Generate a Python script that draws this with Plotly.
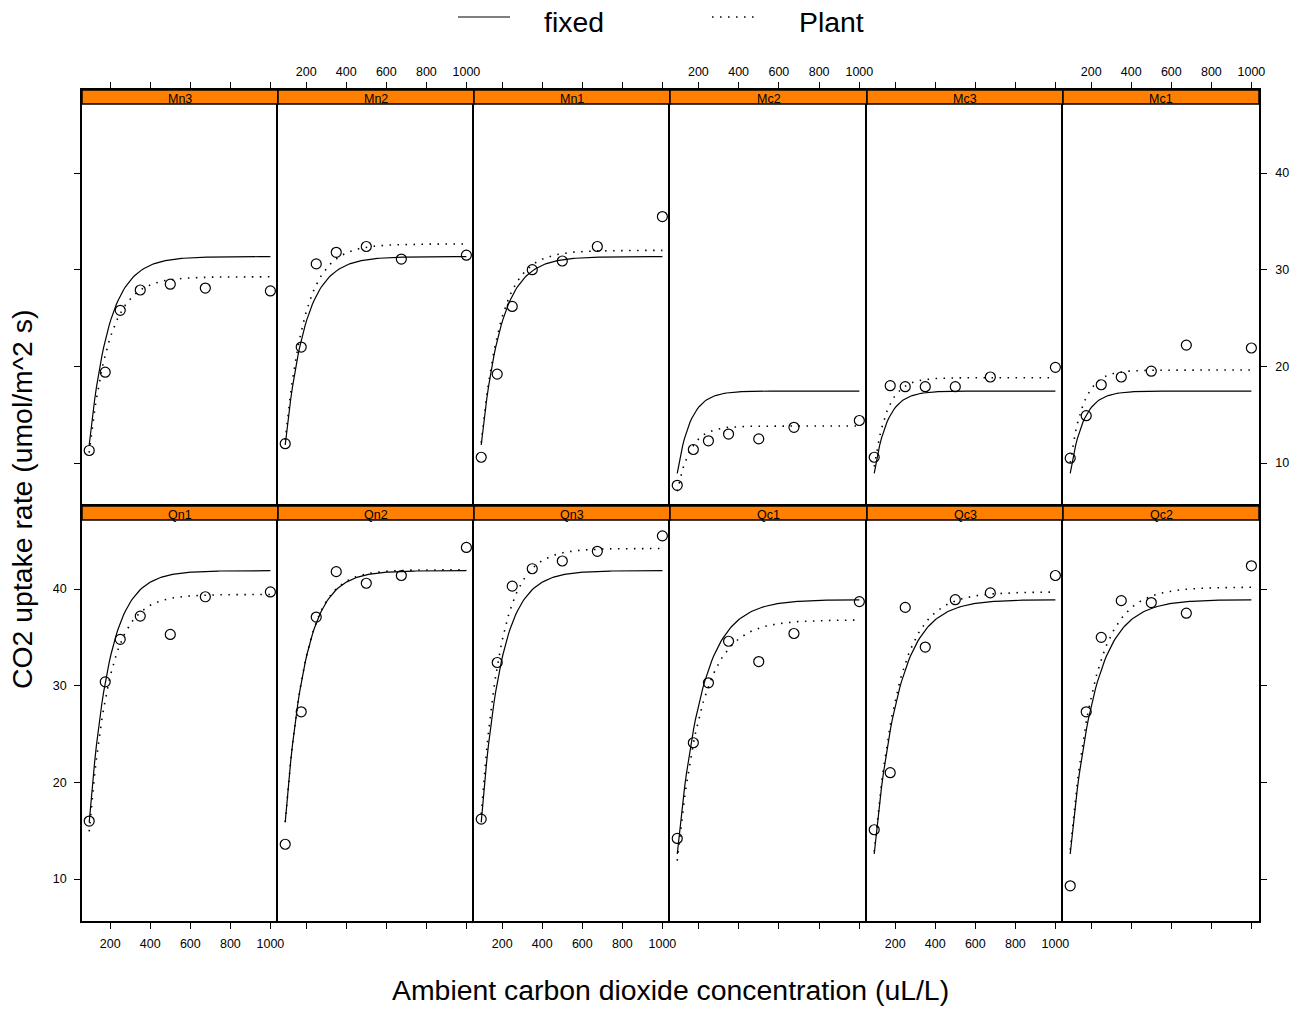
import numpy as np
import plotly.graph_objects as go

W, H = 1306, 1013

# ---- data (CO2 uptake, grass plants) ----
conc = [95, 175, 250, 350, 500, 675, 1000]
plants = ["Mn3", "Mn2", "Mn1", "Mc2", "Mc3", "Mc1",
          "Qn1", "Qn2", "Qn3", "Qc1", "Qc3", "Qc2"]
plant_group = ["Mn", "Mn", "Mn", "Mc", "Mc", "Mc",
               "Qn", "Qn", "Qn", "Qc", "Qc", "Qc"]
uptake = [
    [11.3, 19.4, 25.8, 27.9, 28.5, 28.1, 27.8],   # Mn3
    [12.0, 22.0, 30.6, 31.8, 32.4, 31.1, 31.5],   # Mn2
    [10.6, 19.2, 26.2, 30.0, 30.9, 32.4, 35.5],   # Mn1
    [7.7, 11.4, 12.3, 13.0, 12.5, 13.7, 14.4],    # Mc2
    [10.6, 18.0, 17.9, 17.9, 17.9, 18.9, 19.9],   # Mc3
    [10.5, 14.9, 18.1, 18.9, 19.5, 22.2, 21.9],   # Mc1
    [16.0, 30.4, 34.8, 37.2, 35.3, 39.2, 39.7],   # Qn1
    [13.6, 27.3, 37.1, 41.8, 40.6, 41.4, 44.3],   # Qn2
    [16.2, 32.4, 40.3, 42.1, 42.9, 43.9, 45.5],   # Qn3
    [14.2, 24.1, 30.3, 34.6, 32.5, 35.4, 38.7],   # Qc1
    [15.1, 21.0, 38.1, 34.0, 38.9, 39.6, 41.4],   # Qc3
    [9.3, 27.3, 35.0, 38.8, 38.6, 37.5, 42.4],    # Qc2
]

# ---- fitted asymptotic-regression model (SSasympOff) ----
group_names = ["Qn", "Qc", "Mn", "Mc"]
group_asym = [41.9, 38.9, 31.35, 17.45]      # fixed-effect asymptotes
group_lrc = [-4.593, -4.789, -4.593, -4.182]  # fixed-effect log rate constants
c0 = 48.0
plant_asym = [29.27, 32.66, 32.0, 13.83, 18.83, 19.62,
              39.44, 42.0, 44.2, 36.8, 39.7, 40.2]   # plant-level asymptotes

x_ticks = [200, 400, 600, 800, 1000]
y_ticks = [10, 20, 30, 40]
legend_labels = ["fixed", "Plant"]
x_title = "Ambient carbon dioxide concentration (uL/L)"
y_title = "CO2 uptake rate (umol/m^2 s)"

FONT = "Liberation Sans, Arial, Helvetica, sans-serif"
STRIP = "#ff8000"
DOT = "1.5px,6.5px"
BIG = 28.4

col_edges = [82, 278, 474, 670, 867, 1063, 1259]
row_spans = [(90, 505), (506, 921)]   # strip top .. panel bottom
strip_h = 14
x_range = [59, 1038]
px_per_unit = 9.667
y_lo = 5.66
y_range = [y_lo, y_lo + (row_spans[0][1] - row_spans[0][0]) / px_per_unit]


def fx(x):
    return x / W


def fy(y):
    return 1 - y / H


def asympoff(x, asym, lrc):
    x = np.asarray(x, dtype=float)
    return asym * (1 - np.exp(-np.exp(lrc) * (x - c0)))


fig = go.Figure()
curve_x = np.linspace(min(conc), max(conc), 101)
shapes = []
annotations = []

for i, p in enumerate(plants):
    r, c = divmod(i, 6)
    n = i + 1
    xa = "x" if n == 1 else f"x{n}"
    ya = "y" if n == 1 else f"y{n}"
    g = group_names.index(plant_group[i])
    lrc = group_lrc[g]

    fig.add_trace(go.Scatter(
        x=conc, y=uptake[i], mode="markers", xaxis=xa, yaxis=ya,
        marker=dict(symbol="circle-open", size=10, color="black",
                    line=dict(width=1.2, color="black")),
        showlegend=False, hoverinfo="x+y"))
    fig.add_trace(go.Scatter(
        x=curve_x, y=asympoff(curve_x, group_asym[g], lrc), mode="lines",
        xaxis=xa, yaxis=ya, line=dict(color="black", width=1.2),
        showlegend=False, hoverinfo="skip"))
    fig.add_trace(go.Scatter(
        x=curve_x, y=asympoff(curve_x, plant_asym[i], lrc), mode="lines",
        xaxis=xa, yaxis=ya, line=dict(color="black", width=1.6, dash=DOT),
        showlegend=False, hoverinfo="skip"))

    top, bot = row_spans[r]
    xd = [fx(col_edges[c]), fx(col_edges[c + 1])]
    yd = [fy(bot), fy(top)]

    if r == 0:
        xside, xlabels, xstand = "top", (c % 2 == 1), 1
    else:
        xside, xlabels, xstand = "bottom", (c % 2 == 0), 4

    xkey = "xaxis" if n == 1 else f"xaxis{n}"
    ykey = "yaxis" if n == 1 else f"yaxis{n}"
    fig.layout[xkey] = dict(
        domain=xd, range=x_range, anchor=ya, side=xside,
        showline=True, mirror=True, linecolor="black", linewidth=1.5,
        ticks="outside", ticklen=6, tickwidth=1, tickcolor="black",
        tickvals=x_ticks, showticklabels=xlabels, ticklabelstandoff=xstand,
        tickfont=dict(family=FONT, size=12.5, color="black"),
        showgrid=False, zeroline=False, fixedrange=True)

    yd_cfg = dict(
        domain=yd, range=y_range, anchor=xa,
        showline=True, linecolor="black", linewidth=1.5,
        tickvals=y_ticks, showgrid=False, zeroline=False, fixedrange=True,
        tickfont=dict(family=FONT, size=12.5, color="black"))
    if c == 0:
        yd_cfg.update(side="left", mirror=False, ticks="outside", ticklen=6,
                      tickwidth=1, tickcolor="black",
                      showticklabels=(r == 1), ticklabelstandoff=5)
    elif c == 5:
        yd_cfg.update(side="right", mirror=True, ticks="outside", ticklen=6,
                      tickwidth=1, tickcolor="black",
                      showticklabels=(r == 0), ticklabelstandoff=6)
    else:
        yd_cfg.update(side="left", mirror=False, ticks="",
                      showticklabels=False)
    fig.layout[ykey] = yd_cfg

    # strip
    shapes.append(dict(type="rect", xref="paper", yref="paper",
                       x0=xd[0], x1=xd[1], y0=fy(top + strip_h), y1=fy(top),
                       fillcolor=STRIP, line=dict(color="black", width=1.5),
                       layer="above"))
    annotations.append(dict(text=p, xref="paper", yref="paper",
                            x=(xd[0] + xd[1]) / 2, y=fy(top + 9),
                            xanchor="center", yanchor="middle", showarrow=False,
                            font=dict(family=FONT, size=12.5, color="black")))

# legend (key at top)
shapes.append(dict(type="line", xref="paper", yref="paper",
                   x0=fx(458), x1=fx(510), y0=fy(17), y1=fy(17),
                   line=dict(color="black", width=1.2)))
shapes.append(dict(type="line", xref="paper", yref="paper",
                   x0=fx(712), x1=fx(760), y0=fy(17), y1=fy(17),
                   line=dict(color="black", width=1.6, dash=DOT)))
annotations.append(dict(text=legend_labels[0], xref="paper", yref="paper",
                        x=fx(542), y=fy(22), xanchor="left", yanchor="middle",
                        showarrow=False,
                        font=dict(family=FONT, size=BIG, color="black")))
annotations.append(dict(text=legend_labels[1], xref="paper", yref="paper",
                        x=fx(797), y=fy(22), xanchor="left", yanchor="middle",
                        showarrow=False,
                        font=dict(family=FONT, size=BIG, color="black")))

# axis titles
annotations.append(dict(text=x_title, xref="paper", yref="paper",
                        x=fx(670), y=fy(990), xanchor="center", yanchor="middle",
                        showarrow=False,
                        font=dict(family=FONT, size=BIG, color="black")))
annotations.append(dict(text=y_title, xref="paper", yref="paper",
                        x=fx(22), y=fy(500), xanchor="center", yanchor="middle",
                        textangle=-90, showarrow=False,
                        font=dict(family=FONT, size=BIG, color="black")))

fig.update_layout(
    width=W, height=H, margin=dict(l=0, r=0, t=0, b=0, autoexpand=False),
    paper_bgcolor="white", plot_bgcolor="rgba(0,0,0,0)",
    shapes=shapes, annotations=annotations, showlegend=False,
    font=dict(family=FONT, color="black"))

fig.write_html("out.html")
